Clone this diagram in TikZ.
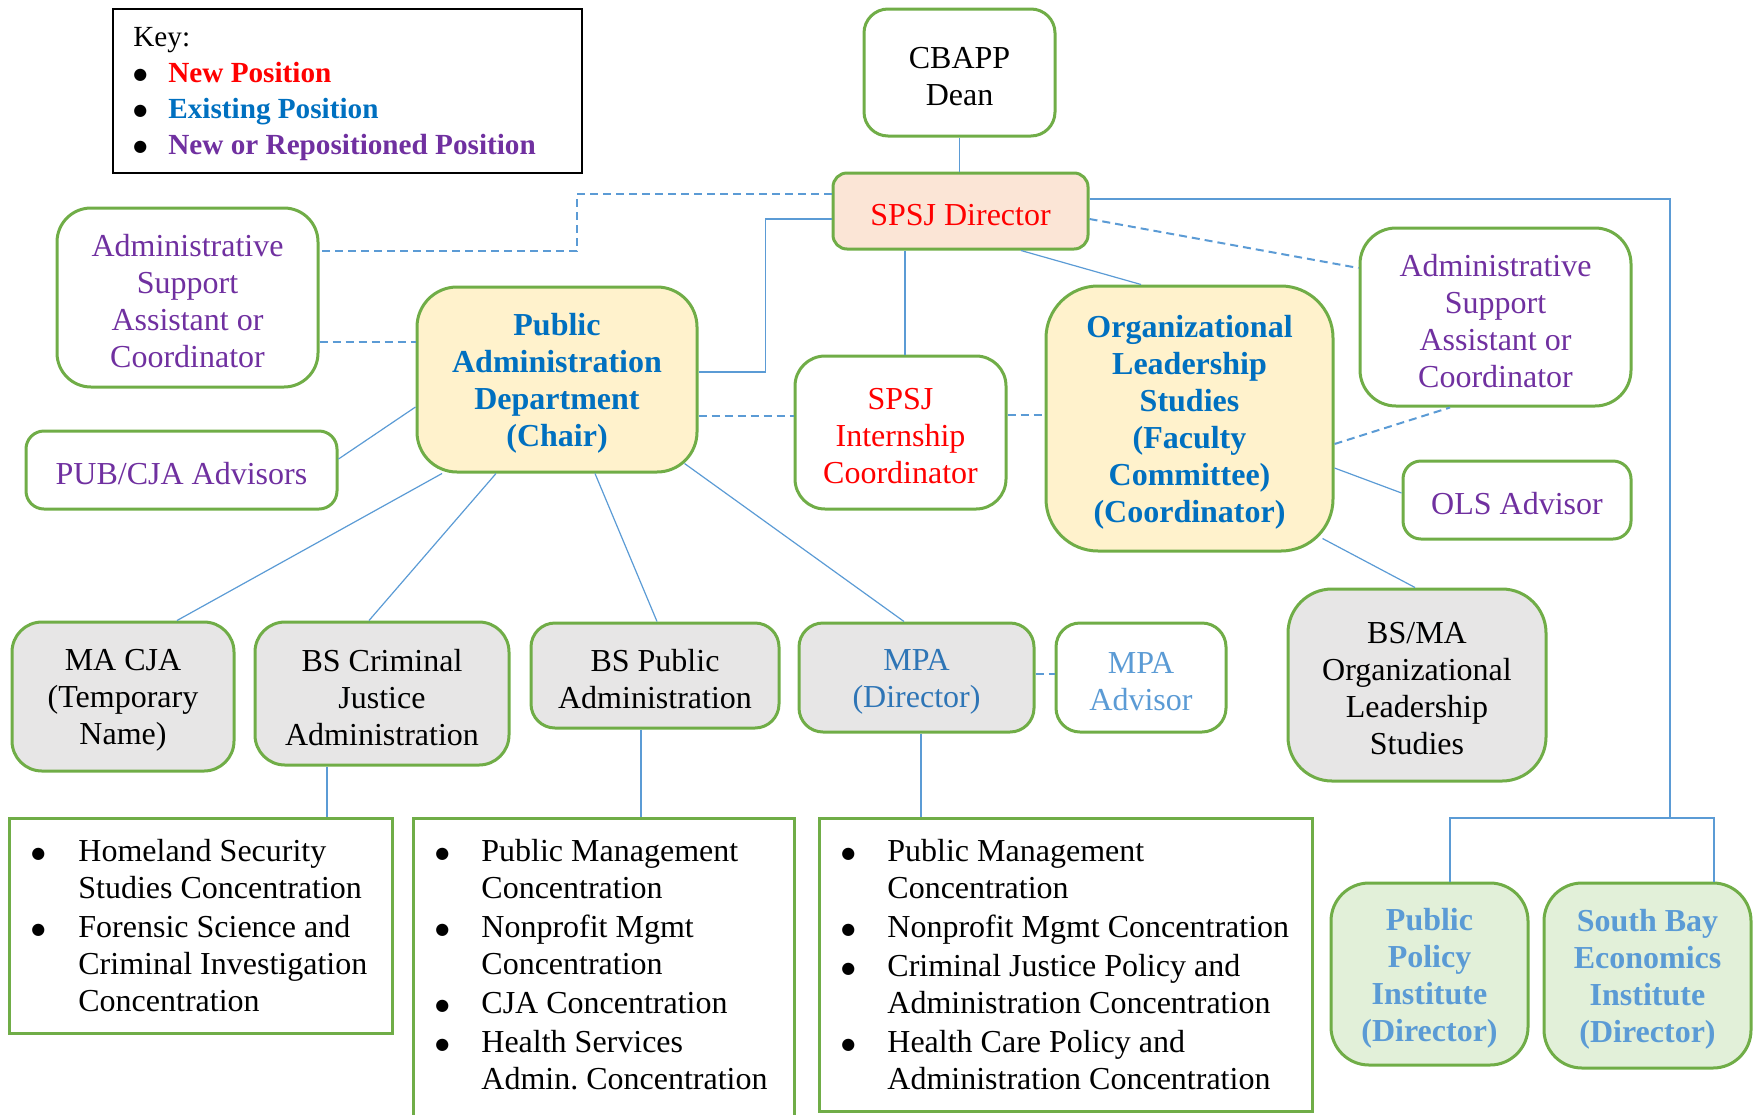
\documentclass[tikz,border=0pt]{standalone}
\usepackage{fontspec}
\setmainfont{Liberation Serif}
\newfontfamily\symfont{DejaVu Sans}
\usetikzlibrary{calc}
\frenchspacing

\definecolor{grn}{HTML}{70AD47}
\definecolor{lnk}{HTML}{5B9BD5}
\definecolor{pur}{HTML}{7030A0}
\definecolor{blu}{HTML}{0070C0}
\definecolor{mpablue}{HTML}{2E75B6}
\definecolor{ltblue}{HTML}{5B9BD5}
\definecolor{salmon}{HTML}{FBE5D6}
\definecolor{cream}{HTML}{FFF2CC}
\definecolor{gry}{HTML}{E7E6E6}
\definecolor{mint}{HTML}{E2F0D9}
\definecolor{keyred}{HTML}{FF0000}

% box given by its corners (x1,y1)-(x2,y2), y measured downwards;
% the label sits in its own node, slightly below the box centre
\newcommand\orgbox[7]{%
  \node[#6, minimum width={(#4-#2)*0.5pt}, minimum height={(#5-#3)*0.5pt}]
    (#1) at ({(#2+#4)/2},{(#3+#5)/2}) {};
  \node[#6, draw=none, fill=none, minimum width=0pt, minimum height=0pt]
    (#1-label) at ($(#1.center)+(0,4)$) {#7};}

% list bullet: a small solid disc
\newcommand\blt{\raisebox{1.6pt}{\symfont\fontsize{8}{8}\selectfont ●}}

\tikzset{
  txt/.style={font=\fontsize{16}{18.5}\selectfont, align=center, inner sep=0pt},
  unit/.style={txt, draw=grn, line width=1.5pt, rounded corners=#1},
  unit/.default=12pt,
  listbox/.style={draw=grn, line width=1.5pt, inner sep=0pt},
  link/.style={draw=lnk, line width=0.6pt},
  dlink/.style={draw=lnk, line width=1pt, dash pattern=on 4pt off 2.5pt},
  listtext/.style={anchor=north west, inner sep=0pt, font=\fontsize{16}{18.5}\selectfont},
}

\begin{document}
\begin{tikzpicture}[x=0.5pt, y=-0.5pt]
\clip (0,0) rectangle (1754,1114);
\useasboundingbox (0,0) rectangle (1754,1114);

% ---- legend ----
\node[draw=black, line width=0.8pt, minimum width=234.5pt, minimum height=82pt, inner sep=0pt]
  (keybox) at (347.5,91) {};
\node[anchor=north west, inner sep=0pt, font=\fontsize{14.6}{18}\selectfont] (keytext) at (133,21) {%
  \begin{tabular}{@{}p{17.5pt}@{}l@{}}
  \multicolumn{2}{@{}l@{}}{Key:}\\
  \blt & \textcolor{keyred}{\textbf{New Position}}\\
  \blt & \textcolor{blu}{\textbf{Existing Position}}\\
  \blt & \textcolor{pur}{\textbf{New or Repositioned Position}}
  \end{tabular}};

% ---- positions ----
\orgbox{cbapp}{864}{9}{1055}{136}{unit=12pt, fill=white}{CBAPP\\Dean}
\orgbox{dir}{833}{173}{1088}{249}{unit=7pt, fill=salmon, text=keyred}{SPSJ Director}
\orgbox{admL}{57}{208}{318}{387}{unit=17pt, fill=white, text=pur}{Administrative\\Support\\Assistant or\\Coordinator}
\orgbox{pad}{417}{287}{697}{472}{unit=20pt, fill=cream, text=blu, font=\fontsize{16}{18.5}\selectfont\bfseries}{Public\\Administration\\Department\\(Chair)}
\orgbox{pub}{26}{431}{337}{509}{unit=9pt, fill=white, text=pur}{PUB/CJA Advisors}
\orgbox{intern}{795}{356}{1006}{509}{unit=15pt, fill=white, text=keyred}{SPSJ\\Internship\\Coordinator}
\orgbox{ols}{1046}{286}{1333}{551}{unit=26pt, fill=cream, text=blu, font=\fontsize{16}{18.5}\selectfont\bfseries}{Organizational\\Leadership\\Studies\\(Faculty\\Committee)\\(Coordinator)}
\orgbox{admR}{1360}{228}{1631}{406}{unit=18pt, fill=white, text=pur}{Administrative\\Support\\Assistant or\\Coordinator}
\orgbox{olsadv}{1403}{461}{1631}{539}{unit=9pt, fill=white, text=pur}{OLS Advisor}
\orgbox{macja}{12}{622}{234}{771}{unit=15pt, fill=gry}{MA CJA\\(Temporary\\Name)}
\orgbox{bscj}{255}{622}{509}{765}{unit=15pt, fill=gry}{BS Criminal\\Justice\\Administration}
\orgbox{bspa}{531}{623}{779}{728}{unit=12pt, fill=gry}{BS Public\\Administration}
\orgbox{mpa}{799}{623}{1034}{732}{unit=12pt, fill=gry, text=mpablue}{MPA\\(Director)}
\orgbox{mpaadv}{1056}{623}{1226}{732}{unit=12pt, fill=white, text=ltblue}{MPA\\Advisor}
\orgbox{bsma}{1288}{589}{1546}{781}{unit=22pt, fill=gry}{BS/MA\\Organizational\\Leadership\\Studies}
\orgbox{ppi}{1331}{883}{1528}{1065}{unit=19pt, fill=mint, text=ltblue, font=\fontsize{16}{18.5}\selectfont\bfseries}{Public\\Policy\\Institute\\(Director)}
\orgbox{sbei}{1544}{883}{1751}{1068}{unit=19pt, fill=mint, text=ltblue, font=\fontsize{16}{18.5}\selectfont\bfseries}{South Bay\\Economics\\Institute\\(Director)}

% ---- concentration lists ----
\node[listbox, minimum width=191.5pt, minimum height=107.5pt] (listA) at (200.5,925.5) {};
\node[listbox, minimum width=190.5pt, minimum height=153.5pt] (listB) at (603.5,971.5) {};
\node[listbox, minimum width=246.5pt, minimum height=146.5pt] (listC) at (1065.5,964.5) {};

\node[listtext] (itemsA) at (31,835) {%
  \begin{tabular}{@{}p{23.5pt}@{}l@{}}
  \blt & Homeland Security\\
  & Studies Concentration\\[1pt]
  \blt & Forensic Science and\\
  & Criminal Investigation\\
  & Concentration
  \end{tabular}};
\node[listtext] (itemsB) at (435,835) {%
  \begin{tabular}{@{}p{23pt}@{}l@{}}
  \blt & Public Management\\
  & Concentration\\[1pt]
  \blt & Nonprofit Mgmt\\
  & Concentration\\[1pt]
  \blt & CJA Concentration\\[1pt]
  \blt & Health Services\\
  & Admin. Concentration
  \end{tabular}};
\node[listtext] (itemsC) at (841,835) {%
  \begin{tabular}{@{}p{23pt}@{}l@{}}
  \blt & Public Management\\
  & Concentration\\[1pt]
  \blt & Nonprofit Mgmt Concentration\\[1pt]
  \blt & Criminal Justice Policy and\\
  & Administration Concentration\\[1pt]
  \blt & Health Care Policy and\\
  & Administration Concentration
  \end{tabular}};

% ---- reporting lines ----
\draw[link] (cbapp.south) -- (cbapp.south |- dir.north);

\coordinate (d1) at ($(dir.west)+(0,-17)$);
\coordinate (d1b) at ($(admL.east)+(257,-46.5)$);
\coordinate (d1c) at ($(admL.east)+(0,-46.5)$);
\draw[dlink] (d1) -| (d1b) -- (d1c);

\coordinate (s1) at ($(dir.west)+(0,8)$);
\coordinate (s1b) at ($(pad.east)+(67,-7.5)$);
\coordinate (s1c) at ($(pad.east)+(0,-7.5)$);
\draw[link] (s1) -| (s1b) -- (s1c);

\coordinate (a1) at ($(admL.east)+(0,44.5)$);
\draw[dlink] (a1) -- (a1 -| pad.west);

\draw[link] ($(pub.east)+(0,-11)$) -- ($(pad.west)+(0,27.5)$);

\coordinate (p1) at ($(pad.east)+(0,36.5)$);
\draw[dlink] (p1) -- (p1 -| intern.west);

\coordinate (i1) at ($(intern.east)+(0,-17.5)$);
\draw[dlink] (i1) -- (i1 -| ols.west);

\coordinate (i2) at ($(intern.north)+(4.5,0)$);
\draw[link] (i2 |- dir.south) -- (i2);

\draw[link] ($(dir.south)+(60.5,0)$) -- ($(ols.north)+(-48.5,0)$);
\draw[dlink] ($(dir.east)+(0,8)$) -- ($(admR.west)+(0,-49)$);

\coordinate (r1) at ($(dir.east)+(0,-12)$);
\coordinate (jn) at (1670,818);
\coordinate (ppiTop) at ($(ppi.north)+(20.5,0)$);
\coordinate (sbeiTop) at ($(sbei.north)+(66.5,0)$);
\draw[link] (r1) -| (jn);
\draw[link] (ppiTop) -- (ppiTop |- jn) -- (sbeiTop |- jn) -- (sbeiTop);

\draw[dlink] ($(ols.east)+(0,25.5)$) -- ($(admR.south)+(-45.5,0)$);
\draw[link] ($(ols.east)+(0,49.5)$) -- ($(olsadv.west)+(0,-7)$);
\draw[link] ($(ols.south east)+(-12,-14)$) -- ($(bsma.north)+(-2,0)$);

\draw[link] ($(pad.south)+(-115,0)$) -- ($(macja.north)+(54,0)$);
\draw[link] ($(pad.south)+(-61,0)$) -- ($(bscj.north)+(-13,0)$);
\draw[link] ($(pad.south)+(38,0)$) -- ($(bspa.north)+(2,0)$);
\draw[link] ($(pad.south east)+(-14,-10)$) -- ($(mpa.north)+(-12.5,0)$);

\coordinate (m1) at ($(mpa.east)+(0,-3.5)$);
\draw[dlink] (m1) -- (m1 -| mpaadv.west);

\coordinate (l1) at ($(bscj.south)+(-55,0)$);
\draw[link] (l1) -- (l1 |- listA.north);
\coordinate (l2) at ($(bspa.south)+(-14,0)$);
\draw[link] (l2) -- (l2 |- listB.north);
\coordinate (l3) at ($(mpa.south)+(4.5,0)$);
\draw[link] (l3) -- (l3 |- listC.north);
\end{tikzpicture}
\end{document}
